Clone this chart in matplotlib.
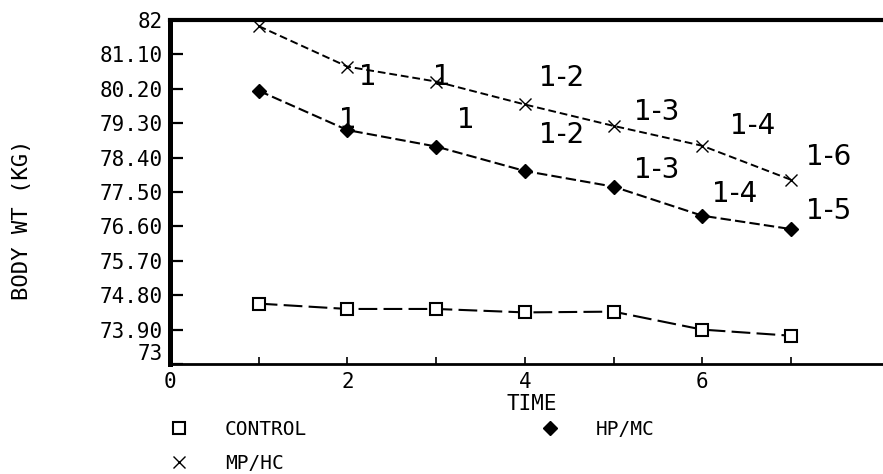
import matplotlib
matplotlib.use("Agg")
import matplotlib.pyplot as plt

# weeks on the x axis
time = [1, 2, 3, 4, 5, 6, 7]

control = [74.58, 74.44, 74.44, 74.35, 74.37, 73.90, 73.74]
hp_mc = [80.15, 79.12, 78.69, 78.05, 77.64, 76.88, 76.53]
mp_hc = [81.84, 80.78, 80.39, 79.79, 79.23, 78.71, 77.82]

# significance notes written on the plot
mp_notes = ["1", "1", "1-2", "1-3", "1-4", "1-6"]
mp_note_x = [2.23, 3.07, 4.42, 5.49, 6.57, 7.42]
mp_note_y = [80.50, 80.50, 80.48, 79.58, 79.23, 78.42]
hp_notes = ["1", "1", "1-2", "1-3", "1-4", "1-5"]
hp_note_x = [2.00, 3.33, 4.42, 5.49, 6.36, 7.42]
hp_note_y = [79.39, 79.39, 79.00, 78.08, 77.45, 77.01]

ytick_vals = [73, 73.9, 74.8, 75.7, 76.6, 77.5, 78.4, 79.3, 80.2, 81.1, 82]
ytick_labels = ["73", "73.90", "74.80", "75.70", "76.60", "77.50",
                "78.40", "79.30", "80.20", "81.10", "82"]
xtick_vals = [0, 1, 2, 3, 4, 5, 6, 7]
xtick_labels = ["0", "", "2", "", "4", "", "6", ""]

mono = "DejaVu Sans Mono"

fig = plt.figure(figsize=(8.83, 4.74), dpi=100)
ax = fig.add_axes([170 / 883, 1 - 364 / 474, 713 / 883, 344 / 474])

ax.plot(time, control, color="black", lw=1.5, dashes=(9, 3),
        marker="s", ms=9, mfc="white", mec="black", mew=1.5, label="CONTROL")
ax.plot(time, mp_hc, color="black", lw=1.4, dashes=(4, 2),
        marker="x", ms=8, mew=1.0, label="MP/HC")
ax.plot(time, hp_mc, color="black", lw=1.5, dashes=(5, 2),
        marker="D", ms=7, mfc="black", mec="black", label="HP/MC")

for t, x, y in zip(mp_notes, mp_note_x, mp_note_y):
    ax.text(x, y, t, fontsize=20, ha="center", va="center", color="black")
for t, x, y in zip(hp_notes, hp_note_x, hp_note_y):
    ax.text(x, y, t, fontsize=20, ha="center", va="center", color="black")

ax.set_xlim(0, 713 / 88.7)
ax.set_ylim(73, 82)

ax.set_yticks(ytick_vals)
ax.set_yticklabels(ytick_labels, fontfamily=mono, fontsize=15)
ax.set_xticks(xtick_vals)
ax.set_xticklabels(xtick_labels, fontfamily=mono, fontsize=15)
ax.get_yticklabels()[0].set_va("bottom")

ax.tick_params(axis="y", direction="in", length=9, width=1.6, pad=5)
ax.tick_params(axis="x", direction="in", length=5, width=1.2, pad=6)

ax.spines["right"].set_visible(False)
ax.spines["left"].set_linewidth(3.6)
ax.spines["top"].set_linewidth(3.0)
ax.spines["bottom"].set_linewidth(2.0)

ax.set_xlabel("TIME", fontfamily=mono, fontsize=15)
ax.xaxis.set_label_coords(0.508, -0.087)
ax.set_ylabel("BODY WT (KG)", fontfamily=mono, fontsize=16)
ax.yaxis.set_label_coords(-0.194, 0.42)

handles, labels = ax.get_legend_handles_labels()
leg = fig.legend(handles, labels, loc="upper left",
                 bbox_to_anchor=(169 / 883, 1 - 420 / 474),
                 ncol=2, frameon=False, prop={"family": mono, "size": 14},
                 handlelength=1.0, handletextpad=1.87, columnspacing=12,
                 labelspacing=0.75, borderpad=0, borderaxespad=0)
for lh in leg.legend_handles:
    lh.set_linestyle("none")

fig.savefig("out.png", dpi=100)
